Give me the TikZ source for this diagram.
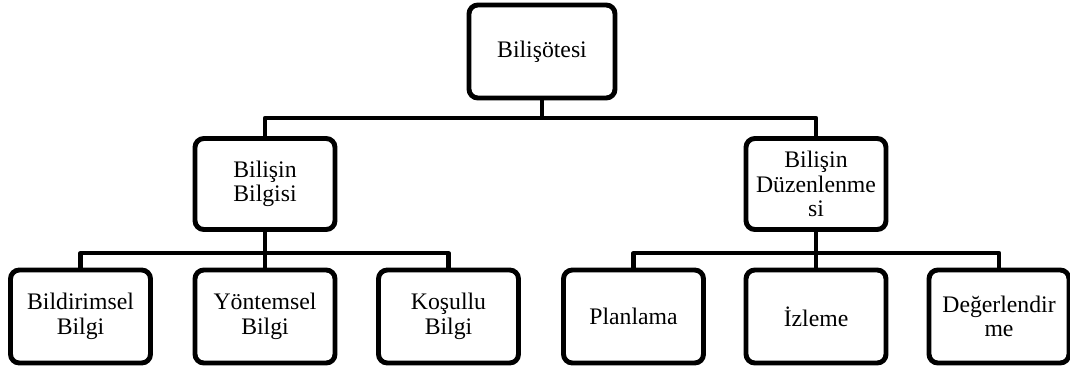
\documentclass[tikz,border=0pt]{standalone}
\usepackage{fontspec}
\setmainfont{Liberation Serif}
\usepackage{tikz}

\tikzset{
  box/.style={draw=black, line width=2.8pt, rounded corners=5pt, fill=white,
    minimum width=2.8cm, minimum height=1.82cm, inner sep=2pt, align=center,
    font=\fontsize{13.5}{14}\selectfont},
  link/.style={line width=2.4pt, line join=round}
}

\begin{document}
\begin{tikzpicture}[x=0.02cm, y=-0.02cm]

  \useasboundingbox (0,0) rectangle (1070,372);

  % top
  \node[box, minimum width=2.92cm, minimum height=1.86cm] (bo) at (542,51.5) {Bilişötesi};

  % second row
  \node[box] (bb) at (265,184) {Bilişin\\Bilgisi};
  \node[box] (bd) at (816,184) {Bilişin\\Düzenlenme\\si};

  % third row
  \node[box, minimum height=1.86cm] (bib) at (80.5,316.5) {Bildirimsel\\Bilgi};
  \node[box, minimum height=1.86cm] (yb)  at (265,316.5) {Yöntemsel\\Bilgi};
  \node[box, minimum height=1.86cm] (kb)  at (448.5,316.5) {Koşullu\\Bilgi};
  \node[box, minimum height=1.86cm] (pl)  at (633.5,316.5) {Planlama};
  \node[box, minimum height=1.86cm] (iz)  at (816,316.5) {İzleme};
  \node[box, minimum height=1.86cm] (de)  at (999,316.5) {Değerlendir\\me};

  % bus lines
  \coordinate (bus1) at (542,118);
  \coordinate (bus2) at (265,253);
  \coordinate (bus3) at (816,253);

  \draw[link] (bo.south) -- (bus1);
  \draw[link] (bb.north) |- (bus1) -| (bd.north);

  \draw[link] (bb.south) -- (yb.north);
  \draw[link] (bib.north) |- (bus2) -| (kb.north);

  \draw[link] (bd.south) -- (iz.north);
  \draw[link] (pl.north) |- (bus3) -| (de.north);

\end{tikzpicture}
\end{document}
